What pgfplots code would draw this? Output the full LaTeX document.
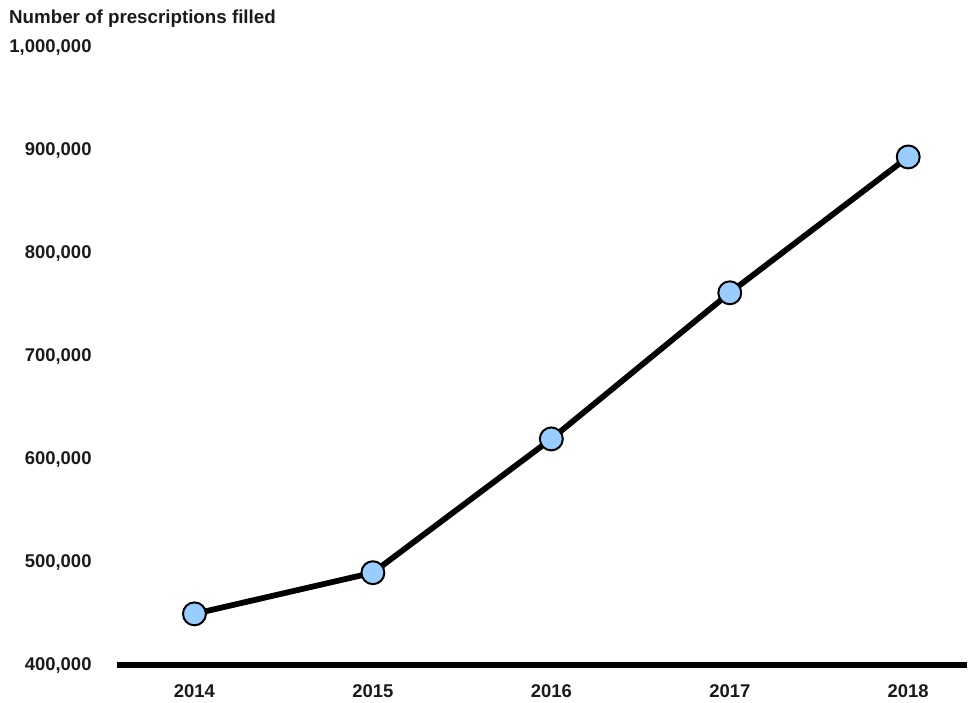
\documentclass[border=0pt]{standalone}
\usepackage{pgfplots}
\pgfplotsset{compat=1.18}
\usepackage{fontspec}
\setmainfont{Liberation Sans}
\definecolor{markblue}{RGB}{153,204,255}
\definecolor{txt}{RGB}{26,26,26}

\begin{document}
\begin{tikzpicture}
\begin{axis}[
    scale only axis,
    width=853pt, height=619.3pt,
    xmin=2013.564, xmax=2018.33,
    ymin=400000, ymax=1000000,
    axis x line*=bottom, axis y line*=left,
    y axis line style={draw=none},
    x axis line style={line width=5.8pt, line cap=butt},
    xtick={2014,2015,2016,2017,2018},
    xticklabels={2014,2015,2016,2017,2018},
    ytick={400000,500000,600000,700000,800000,900000,1000000},
    yticklabels={{400,000},{500,000},{600,000},{700,000},{800,000},{900,000},{1,000,000}},
    major tick length=0pt,
    scaled y ticks=false,
    ticklabel style={font=\fontsize{18.5}{21}\selectfont\bfseries, text=txt},
    xticklabel style={anchor=north, inner sep=0pt, yshift=-19pt},
    yticklabel style={anchor=east, inner sep=0pt, xshift=-25pt},
    clip=false,
]
\addplot[black, line width=5.8pt, line join=round,
    mark=*, mark size=11.5pt,
    mark options={fill=markblue, draw=black, line width=2pt}]
    coordinates {
    (2014,450000)(2015,490000)(2016,620000)(2017,762000)(2018,894000)
    };
\coordinate (tl) at (rel axis cs:0,1);
\coordinate (br) at (rel axis cs:1,0);
\end{axis}
\node[anchor=north west, inner sep=0pt, font=\fontsize{18.8}{21}\selectfont\bfseries, text=txt]
    at ([shift={(-108pt,38pt)}]tl) {Number of prescriptions filled};
\path ([shift={(-117pt,48pt)}]tl) rectangle ([shift={(0pt,-37.7pt)}]br);
\end{tikzpicture}
\end{document}
